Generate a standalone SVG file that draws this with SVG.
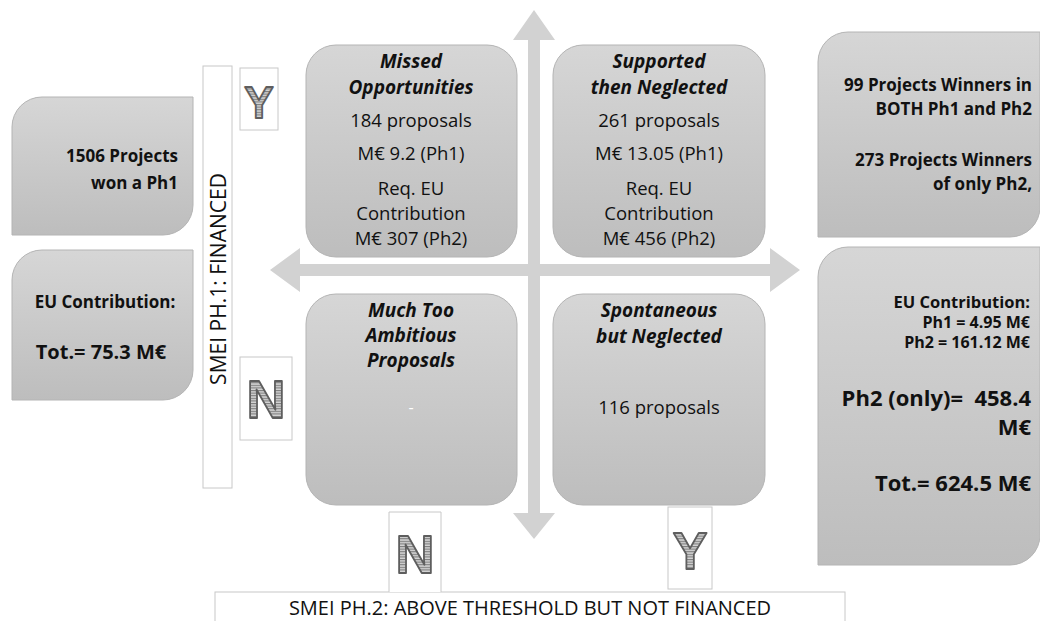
<svg xmlns="http://www.w3.org/2000/svg" width="1040" height="621" viewBox="0 0 1040 621">
<style>
.box{fill:url(#g);stroke:#b4b4b4;stroke-width:1}
.lbl{fill:#fff;stroke:#c8c8c8;stroke-width:1}
.t{font-family:"Open Sans","Liberation Sans",sans-serif;fill:#111}
.b{font-weight:bold}
.i{font-style:italic;font-weight:bold;font-size:19px}
.c{text-anchor:middle}
.r{text-anchor:end}
.q{font-size:18.5px}
.let{font-family:"Liberation Sans",Arial,sans-serif;font-weight:bold;fill:url(#st);stroke:#5e5e5e;stroke-width:1.8;stroke-linejoin:round;text-anchor:middle}
.arr{fill:#d2d2d2}
</style>
<defs>
<linearGradient id="g" x1="0" y1="0" x2="0" y2="1">
<stop offset="0" stop-color="#d6d6d6"/>
<stop offset="1" stop-color="#bdbdbd"/>
</linearGradient>
<pattern id="st" width="4" height="2.6" patternUnits="userSpaceOnUse">
<rect width="4" height="2.6" fill="#d4d4d4"/>
<rect width="4" height="1.1" fill="#7c7c7c"/>
</pattern>
</defs>
<g id="connectors">
<polygon class="arr" points="270,270 300,248 300,264 770,264 770,248 800,270 770,292 770,276 300,276 300,292"/>
<polygon class="arr" points="534,10 555,40 540,40 540,513 555,513 534,539 513,513 528,513 528,40 513,40"/>
</g>
<g id="left-winners">
<path class="box" d="M42 97H193V205A30 30 0 0 1 163 235H12V127A30 30 0 0 1 42 97Z"/>
<text class="t b r" x="178" y="162" font-size="17">1506 Projects</text>
<text class="t b r" x="178" y="189" font-size="17">won a Ph1</text>
</g>
<g id="left-contrib">
<path class="box" d="M42 250H193V370A30 30 0 0 1 163 400H12V280A30 30 0 0 1 42 250Z"/>
<text class="t b c" x="105" y="308" font-size="17">EU Contribution:</text>
<text class="t b c" x="101" y="359" font-size="20">Tot.= 75.3 M€</text>
</g>
<g id="ph1-label">
<rect class="lbl" x="203" y="66" width="29" height="422"/>
<text class="t" x="226" y="279" font-size="21" text-anchor="middle" transform="rotate(-90 226 279)">SMEI PH.1: FINANCED</text>
</g>
<g id="ph1-Y">
<rect class="lbl" x="240" y="68" width="38" height="62"/>
<text class="let" x="259" y="118" font-size="44">Y</text>
</g>
<g id="ph1-N">
<rect class="lbl" x="240" y="357" width="52" height="83"/>
<text class="let" x="266" y="418" font-size="54">N</text>
</g>
<g id="missed">
<rect class="box" x="306" y="45" width="211" height="212" rx="30"/>
<text class="t i c" x="411" y="68">Missed</text>
<text class="t i c" x="411" y="94">Opportunities</text>
<text class="t c q" x="411" y="127">184 proposals</text>
<text class="t c q" x="411" y="160">M€ 9.2 (Ph1)</text>
<text class="t c q" x="411" y="195">Req. EU</text>
<text class="t c q" x="411" y="220">Contribution</text>
<text class="t c q" x="411" y="245">M€ 307 (Ph2)</text>
</g>
<g id="supported">
<rect class="box" x="553" y="45" width="212" height="212" rx="30"/>
<text class="t i c" x="659" y="68">Supported</text>
<text class="t i c" x="659" y="94">then Neglected</text>
<text class="t c q" x="659" y="127">261 proposals</text>
<text class="t c q" x="659" y="160">M€ 13.05 (Ph1)</text>
<text class="t c q" x="659" y="195">Req. EU</text>
<text class="t c q" x="659" y="220">Contribution</text>
<text class="t c q" x="659" y="245">M€ 456 (Ph2)</text>
</g>
<g id="ambitious">
<rect class="box" x="306" y="294" width="211" height="211" rx="30"/>
<text class="t i c" x="411" y="317">Much Too</text>
<text class="t i c" x="411" y="342">Ambitious</text>
<text class="t i c" x="411" y="367">Proposals</text>
<text class="t c" x="411" y="413" font-size="16" style="fill:#fff">-</text>
</g>
<g id="spontaneous">
<rect class="box" x="553" y="294" width="212" height="211" rx="30"/>
<text class="t i c" x="659" y="317">Spontaneous</text>
<text class="t i c" x="659" y="343">but Neglected</text>
<text class="t c q" x="659" y="414">116 proposals</text>
</g>
<g id="right-winners">
<path class="box" d="M848 32H1040V207A30 30 0 0 1 1010 237H818V62A30 30 0 0 1 848 32Z"/>
<text class="t b r" x="1032" y="91" font-size="17">99 Projects Winners in</text>
<text class="t b r" x="1032" y="115" font-size="17">BOTH Ph1 and Ph2</text>
<text class="t b r" x="1032" y="166" font-size="17">273 Projects Winners</text>
<text class="t b r" x="1032" y="190" font-size="17">of only Ph2,</text>
</g>
<g id="right-contrib">
<path class="box" d="M848 247H1040V535A30 30 0 0 1 1010 565H818V277A30 30 0 0 1 848 247Z"/>
<text class="t b r" x="1030" y="308" font-size="16.5">EU Contribution:</text>
<text class="t b r" x="1030" y="328" font-size="16">Ph1 = 4.95 M€</text>
<text class="t b r" x="1030" y="348" font-size="16">Ph2 = 161.12 M€</text>
<text class="t b r" x="1031" y="406" font-size="22" xml:space="preserve">Ph2 (only)=  458.4</text>
<text class="t b r" x="1031" y="435" font-size="22">M€</text>
<text class="t b r" x="1031" y="491" font-size="22">Tot.= 624.5 M€</text>
</g>
<g id="ph2-label">
<rect class="lbl" x="215" y="592" width="630" height="40"/>
<text class="t c" x="530" y="615" font-size="20">SMEI PH.2: ABOVE THRESHOLD BUT NOT FINANCED</text>
</g>
<g id="ph2-N">
<path class="lbl" d="M389 592V512H441V592"/>
<text class="let" x="415" y="573" font-size="54">N</text>
</g>
<g id="ph2-Y">
<rect class="lbl" x="668" y="507" width="44" height="82"/>
<text class="let" x="690" y="569" font-size="52">Y</text>
</g>
</svg>
